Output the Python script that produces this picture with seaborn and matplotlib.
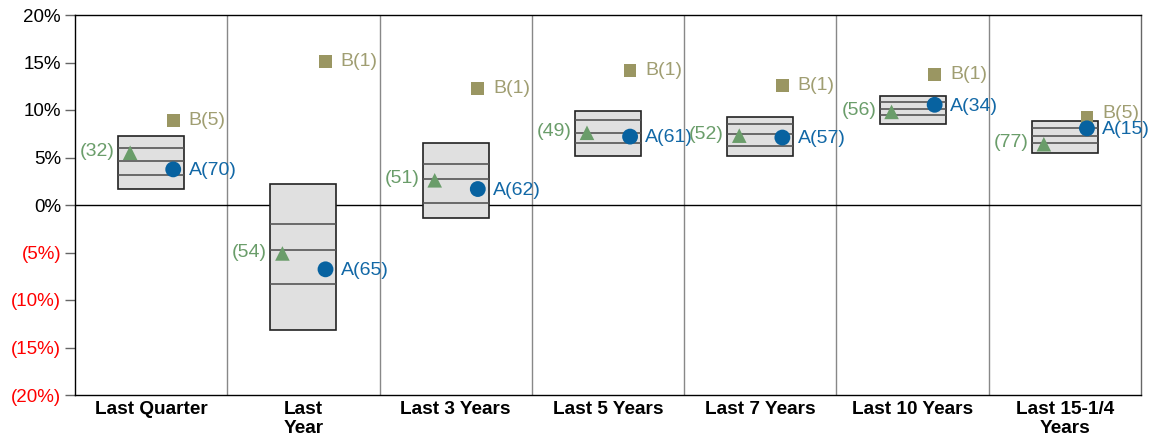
import numpy as np
import pandas as pd
import matplotlib
matplotlib.use("Agg")
import matplotlib.pyplot as plt
import seaborn as sns

# Periods
periods = ["Last Quarter", "Last\nYear", "Last 3 Years", "Last 5 Years",
           "Last 7 Years", "Last 10 Years", "Last 15-1/4\nYears"]

# Floating bar percentiles (top, 25th from top, median, 75th, bottom)
p05 = [7.26, 2.25, 6.5, 9.93, 9.26, 11.5, 8.84]
p25 = [6.0, -1.97, 4.35, 9.0, 8.5, 10.8, 8.07]
p50 = [4.66, -4.7, 2.7, 7.58, 7.44, 10.1, 7.3]
p75 = [3.2, -8.35, 0.2, 6.56, 6.24, 9.5, 6.56]
p95 = [1.68, -13.16, -1.4, 5.19, 5.16, 8.5, 5.44]

# Points and their ranks
bench = [5.5, -5.1, 2.6, 7.6, 7.3, 9.8, 6.4]
bench_rank = [32, 54, 51, 49, 52, 56, 77]
a_vals = [3.75, -6.77, 1.68, 7.2, 7.1, 10.55, 8.07]
a_rank = [70, 65, 62, 61, 57, 34, 15]
b_vals = [8.9, 15.1, 12.25, 14.14, 12.6, 13.7, 9.2]
b_rank = [5, 1, 1, 1, 1, 1, 5]

yticks = [20, 15, 10, 5, 0, -5, -10, -15, -20]

green = "#6a9d6a"
blue = "#0762a0"
olive = "#9a9662"

sns.set_style("white")
plt.rcParams["font.family"] = ["Liberation Sans", "DejaVu Sans"]
plt.rcParams["text.color"] = "black"

fig = plt.figure(figsize=(11.54, 4.37), dpi=100)
ax = fig.add_axes([75 / 1154, 1 - 395 / 437, (1141 - 75) / 1154, 380 / 437])

centers = np.arange(len(periods)) + 0.5
bw = 0.433
off_l = -0.138
off_r = 0.145

# group dividers and zero line
for i in range(1, len(periods)):
    ax.axvline(i, color="#888888", lw=1.0, zorder=1)
ax.axhline(0, color="black", lw=1.0, zorder=1)

# floating boxes
ax.bar(centers, np.array(p05) - np.array(p95), bottom=p95, width=bw,
       color="#e0e0e0", edgecolor="#222222", linewidth=1.2, zorder=2)
for arr in (p25, p50, p75):
    ax.hlines(arr, centers - bw / 2, centers + bw / 2, color="#555555", lw=1.2, zorder=3)

df = pd.DataFrame({
    "x": centers,
    "bench": bench,
    "a": a_vals,
    "b": b_vals,
})

sns.scatterplot(data=df, x=df["x"] + off_r, y="b", marker="s", s=85, color=olive,
                edgecolor="none", ax=ax, zorder=4)
sns.scatterplot(data=df, x=df["x"] + off_l, y="bench", marker="^", s=110, color=green,
                edgecolor="none", ax=ax, zorder=4)
sns.scatterplot(data=df, x=df["x"] + off_r, y="a", marker="o", s=130, color=blue,
                edgecolor="none", ax=ax, zorder=5)

fs = 14
for i, (c, v, r) in enumerate(zip(centers, b_vals, b_rank)):
    dy = 3 if i == len(periods) - 1 else 0  # last B label sits a bit higher
    ax.annotate(f"B({r})", (c + off_r, v), xytext=(11, dy), textcoords="offset points",
                va="center", ha="left", color="#a09e72", fontsize=fs, zorder=6)
for c, v, r in zip(centers, a_vals, a_rank):
    ax.annotate(f"A({r})", (c + off_r, v), xytext=(11, -1), textcoords="offset points",
                va="center", ha="left", color="#1268a6", fontsize=fs, zorder=6)
for c, v, r in zip(centers, bench, bench_rank):
    ax.annotate(f"({r})", (c + off_l, v), xytext=(-11, 1), textcoords="offset points",
                va="center", ha="right", color=green, fontsize=fs, zorder=6)

ax.set_xlim(0, len(periods))
ax.set_ylim(-20, 20)
ax.set_yticks(yticks)
ax.set_yticklabels([f"{t}%" if t >= 0 else f"({-t}%)" for t in yticks], fontsize=13.5)
for lab, t in zip(ax.get_yticklabels(), yticks):
    lab.set_color("black" if t >= 0 else "#ff0000")
ax.tick_params(axis="y", direction="out", length=7, width=1, color="#666666", pad=3, left=True)

ax.set_xticks(centers)
ax.set_xticklabels(periods, fontsize=13.7, fontweight="bold", linespacing=1.15, color="black")
ax.tick_params(axis="x", length=0, pad=4)
ax.set_xlabel("")
ax.set_ylabel("")

for s in ax.spines.values():
    s.set_visible(True)
    s.set_color("black")
    s.set_linewidth(1.0)
ax.spines["right"].set_color("#666666")

fig.savefig("out.png", dpi=100)
